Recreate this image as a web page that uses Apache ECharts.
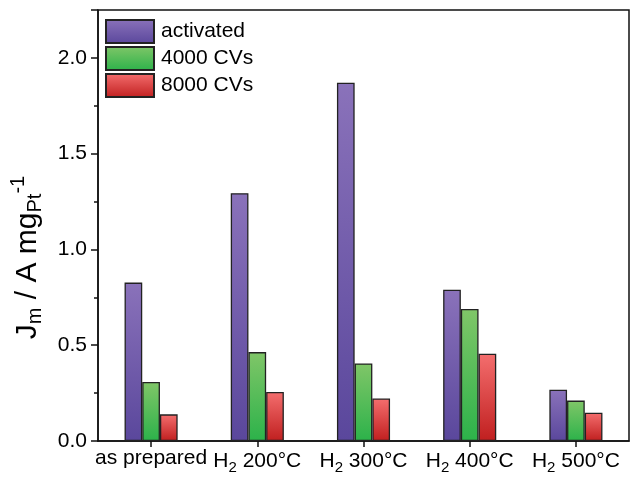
<!DOCTYPE html>
<html>
<head>
<meta charset="utf-8">
<script src="https://cdn.jsdelivr.net/npm/echarts@6/dist/echarts.min.js"></script>
<style>html,body{margin:0;padding:0;background:#fff}#c{width:631px;height:477px}</style>
</head>
<body>
<div id="c"></div>
<script>
var categories = ['as prepared', 'H2 200°C', 'H2 300°C', 'H2 400°C', 'H2 500°C'];
var seriesNames = ['activated', '4000 CVs', '8000 CVs'];
var activated = [0.827, 1.294, 1.87, 0.79, 0.268];
var cv4000 = [0.308, 0.464, 0.405, 0.689, 0.211];
var cv8000 = [0.139, 0.256, 0.222, 0.456, 0.148];
var yTicks = [0, 0.5, 1.0, 1.5, 2.0];

var FONT = '"Liberation Sans", Arial, sans-serif';
function grad(top, bottom) {
  return new echarts.graphic.LinearGradient(0, 0, 0, 1, [
    {offset: 0, color: top}, {offset: 1, color: bottom}
  ]);
}
var fills = [
  grad('#8a72ba', '#5a479c'),
  grad('#80c668', '#2cb24a'),
  grad('#f46e6e', '#c01f1f')
];
var values = [activated, cv4000, cv8000];

var chart = echarts.init(document.getElementById('c'), null, {renderer: 'canvas'});
chart.setOption({
  animation: false,
  backgroundColor: '#fff',
  textStyle: {fontFamily: FONT, color: '#000'},
  grid: {left: 96, right: 2, top: 10, bottom: 36, show: true, borderColor: '#111', borderWidth: 1.5, backgroundColor: 'transparent'},
  legend: {
    orient: 'vertical', left: 105, top: 19, padding: 0,
    itemWidth: 48, itemHeight: 23, itemGap: 2,
    icon: 'rect',
    textStyle: {fontFamily: FONT, fontSize: 21, color: '#000', padding: [0, 0, 0, 2]},
    data: seriesNames
  },
  xAxis: {
    type: 'category',
    data: categories,
    axisLine: {lineStyle: {color: '#111', width: 1.5}},
    axisTick: {show: true, interval: 0, alignWithLabel: true, length: 6, lineStyle: {color: '#111', width: 1.5}},
    axisLabel: {
      interval: 0, margin: 7,
      formatter: function (v) {
        if (v.indexOf('H2') === 0) return '{n|H}{s|2}{n|' + v.slice(2) + '}';
        return '{n|' + v + '}';
      },
      rich: {
        n: {fontFamily: FONT, fontSize: 21, color: '#000'},
        s: {fontFamily: FONT, fontSize: 15, color: '#000', padding: [12, 0, 0, 0]}
      }
    }
  },
  yAxis: {
    type: 'value', min: 0, max: 2.25, interval: 0.5,
    name: '{n|J}{s|m}{n| / A mg}{s|Pt}{p|-1}',
    nameLocation: 'middle', nameGap: 50, nameRotate: 90,
    nameTextStyle: {
      padding: [0, 64, 0, 0],
      rich: {
        n: {fontFamily: FONT, fontSize: 30, color: '#000'},
        s: {fontFamily: FONT, fontSize: 20, color: '#000', padding: [15, 0, 0, 0]},
        p: {fontFamily: FONT, fontSize: 20, color: '#000', padding: [0, 0, 20, 0]}
      }
    },
    axisLine: {show: true, lineStyle: {color: '#111', width: 1.5}},
    axisTick: {show: true, length: 7, lineStyle: {color: '#111', width: 1.5}},
    minorTick: {show: true, splitNumber: 2, length: 4, lineStyle: {color: '#111', width: 1.5}},
    splitLine: {show: false},
    axisLabel: {
      fontFamily: FONT, fontSize: 21, color: '#000', margin: 11,
      formatter: function (v) {
        for (var i = 0; i < yTicks.length; i++) if (Math.abs(v - yTicks[i]) < 1e-9) return yTicks[i].toFixed(1);
        return '';
      }
    }
  },
  series: seriesNames.map(function (n, i) {
    return {
      name: n, type: 'bar', data: values[i],
      barGap: '0%', barCategoryGap: '50%',
      itemStyle: {color: fills[i], borderColor: '#222', borderWidth: 1.3}
    };
  })
});
</script>
</body>
</html>
